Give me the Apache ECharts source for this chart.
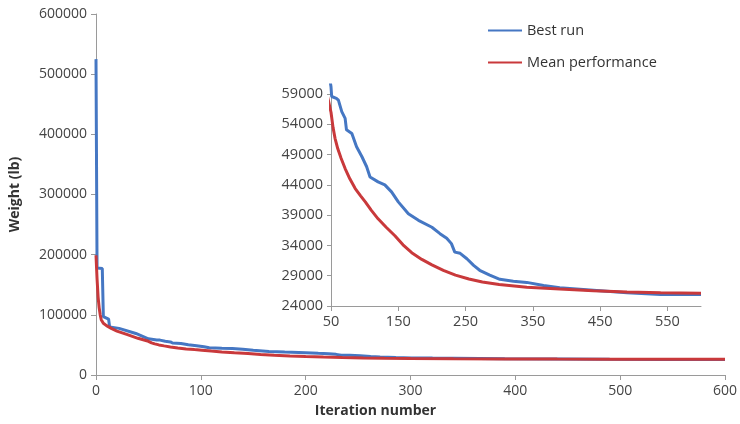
<!DOCTYPE html>
<html lang="en">
<head>
    <meta charset="UTF-8">
    <title>Weight vs iteration</title>
    <script src="https://cdn.jsdelivr.net/npm/echarts/dist/echarts.min.js"></script>
    <style>
        html, body { margin: 0; padding: 0; background: #fff; }
        #chart { width: 740px; height: 424px; }
    </style>
</head>
<body>
    <div id="chart"></div>
    <script>
        // values (iteration, weight in lb)
        var bestIter = [0, 1, 6, 7, 12, 13, 22, 38, 50, 51, 58, 61, 66, 71, 73, 81, 88, 96, 103, 108, 120, 130, 140,
            150, 165, 180, 200, 212, 222, 229, 234, 242, 252, 262, 271, 286, 301, 321, 341, 366, 390, 440, 490, 540, 600];
        var bestWeight = [525000, 178000, 177000, 97000, 93000, 80000, 77500, 69000, 60200, 58600, 58300, 58000,
            56100, 55000, 53100, 52500, 50300, 48650, 47000, 45300, 44500, 44000, 42850, 41200, 39250, 38150, 37000,
            35950, 35200, 34300, 32900, 32700, 31800, 30700, 29900, 29100, 28400, 28100, 27900, 27400, 27000, 26600,
            26200, 25900, 25900];

        var meanIter = [0, 1, 2, 3, 4, 5, 7, 10, 15, 20, 30, 40, 50, 53, 56, 60, 65, 71, 78, 86, 94, 101, 110, 120,
            132, 145, 157, 170, 185, 200, 217, 235, 255, 275, 300, 341, 390, 440, 490, 540, 600];
        var meanWeight = [199000, 160000, 130000, 112000, 100000, 92000, 86000, 82000, 77000, 73000, 67000, 61000,
            56000, 53500, 51700, 50000, 48400, 46700, 45000, 43400, 42200, 41200, 39800, 38400, 37000, 35600, 34100,
            32800, 31700, 30800, 29900, 29100, 28450, 27950, 27550, 27100, 26800, 26500, 26300, 26200, 26100];

        var insetYTicks = [24000, 29000, 34000, 39000, 44000, 49000, 54000, 59000];
        var insetXTicks = [50, 150, 250, 350, 450, 550];

        function pairs(xs, ys) {
            return xs.map(function (x, i) { return [x, ys[i]]; });
        }

        var bestData = pairs(bestIter, bestWeight);
        var meanData = pairs(meanIter, meanWeight);

        var BLUE = '#4577c3';
        var RED = '#c9393b';
        var FONT = 'Open Sans';
        var axisGrey = '#9a9a9a';
        var plain = function (v) { return String(v); };

        var chart = echarts.init(document.getElementById('chart'));

        var option = {
            animation: false,
            textStyle: { fontFamily: FONT },
            legend: {
                orient: 'vertical',
                left: 488,
                top: 23,
                padding: 0,
                itemWidth: 34,
                itemHeight: 14,
                itemGap: 17,
                icon: 'path://M0,6 L34,6 L34,8 L0,8 Z',
                textStyle: { fontFamily: FONT, fontSize: 14.5, color: '#333' },
                data: ['Best run', 'Mean performance']
            },
            grid: [
                { left: 96, right: 14, top: 14, bottom: 49 },
                { left: 331, right: 39, top: 85, bottom: 118 }
            ],
            xAxis: [
                {
                    gridIndex: 0,
                    type: 'value',
                    min: 0,
                    max: 600,
                    interval: 100,
                    name: 'Iteration number',
                    nameLocation: 'middle',
                    nameGap: 29,
                    nameTextStyle: { fontFamily: FONT, fontSize: 14, fontWeight: 'bold', color: '#333', padding: [0, 70, 0, 0] },
                    axisLine: { lineStyle: { color: axisGrey } },
                    axisTick: { length: 5, lineStyle: { color: axisGrey } },
                    axisLabel: { fontSize: 14, color: '#444', margin: 9, formatter: plain },
                    splitLine: { show: false }
                },
                {
                    gridIndex: 1,
                    type: 'value',
                    min: 50,
                    max: 600,
                    axisLine: { lineStyle: { color: axisGrey } },
                    axisTick: { length: 5, customValues: insetXTicks, lineStyle: { color: axisGrey } },
                    axisLabel: { fontSize: 14.5, color: '#444', margin: 8, customValues: insetXTicks, formatter: plain },
                    splitLine: { show: false }
                }
            ],
            yAxis: [
                {
                    gridIndex: 0,
                    type: 'value',
                    min: 0,
                    max: 600000,
                    interval: 100000,
                    name: 'Weight (lb)',
                    nameLocation: 'middle',
                    nameGap: 74,
                    nameTextStyle: { fontFamily: FONT, fontSize: 14, fontWeight: 'bold', color: '#333' },
                    axisLine: { show: true, lineStyle: { color: axisGrey } },
                    axisTick: { show: true, length: 5, lineStyle: { color: axisGrey } },
                    axisLabel: { fontSize: 14, color: '#444', margin: 9, formatter: plain },
                    splitLine: { show: false }
                },
                {
                    gridIndex: 1,
                    type: 'value',
                    min: 24000,
                    max: 60500,
                    axisLine: { show: true, lineStyle: { color: axisGrey } },
                    axisTick: { show: true, length: 4, customValues: insetYTicks, lineStyle: { color: axisGrey } },
                    axisLabel: { fontSize: 14.5, color: '#444', margin: 8, customValues: insetYTicks, formatter: plain },
                    splitLine: { show: false }
                }
            ],
            series: [
                {
                    name: 'Best run', type: 'line', xAxisIndex: 0, yAxisIndex: 0,
                    data: bestData, showSymbol: false,
                    lineStyle: { color: BLUE, width: 3 }, itemStyle: { color: BLUE }
                },
                {
                    name: 'Mean performance', type: 'line', xAxisIndex: 0, yAxisIndex: 0,
                    data: meanData, showSymbol: false,
                    lineStyle: { color: RED, width: 3 }, itemStyle: { color: RED }
                },
                {
                    name: 'Best run', type: 'line', xAxisIndex: 1, yAxisIndex: 1,
                    data: bestData, showSymbol: false, clip: true,
                    lineStyle: { color: BLUE, width: 3 }, itemStyle: { color: BLUE }
                },
                {
                    name: 'Mean performance', type: 'line', xAxisIndex: 1, yAxisIndex: 1,
                    data: meanData, showSymbol: false, clip: true,
                    lineStyle: { color: RED, width: 3 }, itemStyle: { color: RED }
                }
            ]
        };

        chart.setOption(option);
    </script>
</body>
</html>
